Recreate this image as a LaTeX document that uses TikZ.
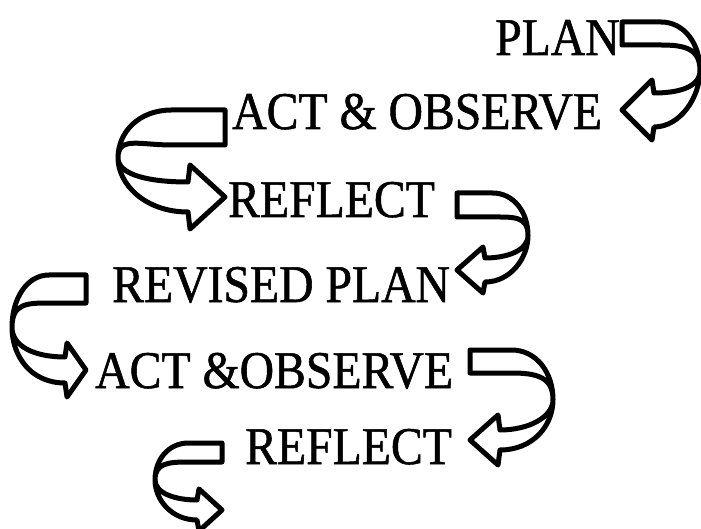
\documentclass[tikz,border=0pt]{standalone}
\usepackage{fontspec}
\setmainfont{Liberation Serif}
\newfontfamily\stagefont[FakeStretch=0.9,FakeBold=1]{Liberation Serif}
\tikzset{
	stage/.style={anchor=base west, inner sep=0pt, font={\stagefont\fontsize{53}{53}\selectfont}},
	ribbon/.style={draw=black, fill=white, line width=5pt, line join=round}
}
\begin{document}
\begin{tikzpicture}[x=1pt,y=-1pt]
	\useasboundingbox (0,0) rectangle (701,529);

	% the stages, top to bottom
	\node[stage] (plan)     at (495,55)  {PLAN};
	\node[stage] (act)      at (232,129) {ACT \& OBSERVE};
	\node[stage] (reflect)  at (228,217) {REFLECT};
	\node[stage] (revised)  at (112,302) {REVISED PLAN};
	\node[stage] (actb)     at (95,388)  {ACT \&OBSERVE};
	\node[stage] (reflectb) at (245,464) {REFLECT};

	% twisted ribbon arrows: tail x/y, side, reach, tail height, drop, head, band, head length
	\foreach \px/\py/\side/\reach/\tail/\drop/\head/\band/\hlen in {
		622/22/1/78/23/88/30/17/32,
		225/110/-1/107/35/87/32/15/37,
		457/193/1/71/24/77/23/12/28,
		86/275/-1/74/28/95/27/13/21,
		470/350/1/83/23/90/25/10/30,
		222/443/-1/67/19/67/21/10/25
	}
		\draw[ribbon, shift={(\px,\py)}, xscale=\side]
			(0,0) -- ({.5*\reach},0)
			.. controls ({.8*\reach},0) and (\reach,{.25*\drop}) .. (\reach,{.55*\drop})
			.. controls (\reach,{.85*\drop}) and ({.75*\reach},{\drop+\band}) .. (\hlen,{\drop+\band})
			-- ({\hlen-2},{\drop+\head}) -- (0,\drop) -- ({\hlen-2},{\drop-\head}) -- (\hlen,{\drop-\band})
			.. controls ({.7*\reach},{\drop-\band}) and (\reach,{.75*\drop}) .. (\reach,{.55*\drop})
			.. controls (\reach,{.3*\drop}) and ({.8*\reach},\tail) .. ({.5*\reach},\tail)
			-- (0,\tail) -- cycle;
\end{tikzpicture}
\end{document}
